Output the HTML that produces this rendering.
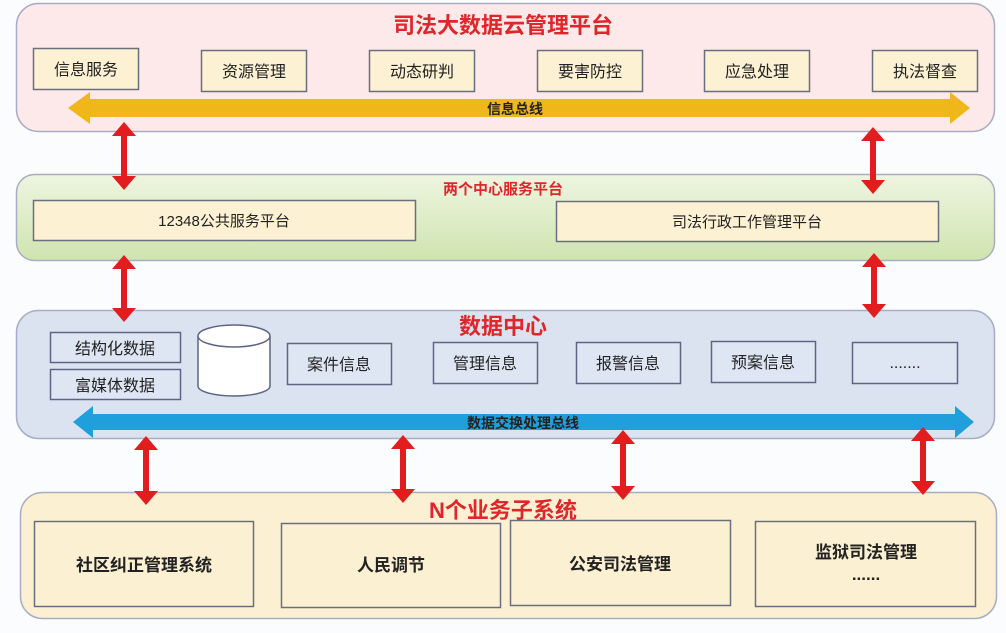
<!DOCTYPE html>
<html><head><meta charset="utf-8"><style>
body{margin:0;background:#fbfcfe;}
svg{display:block;font-family:"Liberation Sans","Noto Sans CJK SC",sans-serif;}
</style></head><body>
<svg width="1006" height="633" viewBox="0 0 1006 633" xmlns="http://www.w3.org/2000/svg">
<defs>
<linearGradient id="g2" x1="0" y1="0" x2="0" y2="1"><stop offset="0" stop-color="#eef5e0"/><stop offset="1" stop-color="#cfe4b0"/></linearGradient>
</defs>
<!-- Panel 1 -->
<rect x="16.5" y="3.5" width="978" height="128" rx="22" fill="#fde9ea" stroke="#a9adc4" stroke-width="1.5"/>
<text x="503" y="33" font-size="22" font-weight="bold" fill="#e0262a" text-anchor="middle">司法大数据云管理平台</text>
<g fill="#fcf1d2" stroke="#6a6f80" stroke-width="1.5">
<rect x="33.5" y="48.5" width="105" height="41"/>
<rect x="201.5" y="50.5" width="105" height="41"/>
<rect x="369.5" y="50.5" width="105" height="41"/>
<rect x="537.5" y="50.5" width="105" height="41"/>
<rect x="704.5" y="50.5" width="105" height="41"/>
<rect x="872.5" y="50.5" width="105" height="41"/>
</g>
<g font-size="16" fill="#222" text-anchor="middle">
<text x="86" y="75">信息服务</text><text x="254" y="77">资源管理</text><text x="422" y="77">动态研判</text>
<text x="590" y="77">要害防控</text><text x="757" y="77">应急处理</text><text x="925" y="77">执法督查</text>
</g>
<polygon points="68,108 90,92 90,99 950,99 950,92 970,108 950,124 950,117 90,117 90,124" fill="#f0b71b"/>
<text x="515" y="114" font-size="14" font-weight="bold" fill="#222" text-anchor="middle">信息总线</text>
<!-- Panel 2 -->
<rect x="16.5" y="174.5" width="978" height="86" rx="18" fill="url(#g2)" stroke="#a9adc4" stroke-width="1.5"/>
<text x="503" y="194" font-size="15" font-weight="bold" fill="#e0262a" text-anchor="middle">两个中心服务平台</text>
<g fill="#fcf1d2" stroke="#6a6f80" stroke-width="1.5">
<rect x="33.5" y="200.5" width="382" height="40"/>
<rect x="556.5" y="201.5" width="382" height="40"/>
</g>
<g font-size="15" fill="#222" text-anchor="middle">
<text x="224" y="226">12348公共服务平台</text><text x="747" y="227">司法行政工作管理平台</text>
</g>
<!-- Panel 3 -->
<rect x="16.5" y="310.5" width="978" height="128" rx="22" fill="#dbe3f1" stroke="#a9adc4" stroke-width="1.5"/>
<text x="503" y="334" font-size="22" font-weight="bold" fill="#e0262a" text-anchor="middle">数据中心</text>
<g fill="#dfe6f3" stroke="#5c6684" stroke-width="1.5">
<rect x="50.5" y="332.5" width="130" height="30"/>
<rect x="50.5" y="369.5" width="130" height="30"/>
<rect x="287.5" y="343.5" width="104" height="41"/>
<rect x="433.5" y="342.5" width="104" height="41"/>
<rect x="576.5" y="342.5" width="104" height="41"/>
<rect x="711.5" y="341.5" width="104" height="41"/>
<rect x="852.5" y="342.5" width="105" height="41"/>
</g>
<path d="M198,336 L198,386 A36,10 0 0 0 270,386 L270,336" fill="#fff" stroke="#5c6684" stroke-width="1.5"/>
<ellipse cx="234" cy="336" rx="36" ry="11" fill="#fff" stroke="#5c6684" stroke-width="1.5"/>
<g font-size="16" fill="#222" text-anchor="middle">
<text x="115" y="354">结构化数据</text><text x="115" y="391">富媒体数据</text>
<text x="339" y="370">案件信息</text><text x="485" y="369">管理信息</text><text x="628" y="369">报警信息</text>
<text x="763" y="368">预案信息</text><text x="905" y="368">.......</text>
</g>
<polygon points="73,422 93,406 93,414 955,414 955,406 974,422 955,438 955,430 93,430 93,438" fill="#1fa0dc"/>
<text x="523" y="428" font-size="14" font-weight="bold" fill="#222" text-anchor="middle">数据交换处理总线</text>
<!-- Panel 4 -->
<rect x="20.5" y="492.5" width="976" height="126" rx="22" fill="#fcf0d2" stroke="#a9adc4" stroke-width="1.5"/>
<text x="503" y="518" font-size="22" font-weight="bold" fill="#e0262a" text-anchor="middle">N个业务子系统</text>
<g fill="#fcf0d2" stroke="#6a6f80" stroke-width="1.5">
<rect x="34.5" y="521.5" width="219" height="85"/>
<rect x="281.5" y="523.5" width="219" height="84"/>
<rect x="510.5" y="520.5" width="220" height="85"/>
<rect x="755.5" y="521.5" width="220" height="85"/>
</g>
<g font-size="17" font-weight="bold" fill="#222" text-anchor="middle">
<text x="144" y="571">社区纠正管理系统</text><text x="391" y="571">人民调节</text>
<text x="620" y="570">公安司法管理</text><text x="866" y="558">监狱司法管理</text><text x="866" y="580">......</text>
</g>
<!-- Red arrows -->
<g fill="#e31d1d">
<polygon points="124,122 136,136 127,136 127,176 136,176 124,190 112,176 121,176 121,136 112,136"/>
<polygon points="873,127 885,141 876,141 876,180 885,180 873,194 861,180 870,180 870,141 861,141"/>
<polygon points="124,255 136,269 127,269 127,308 136,308 124,322 112,308 121,308 121,269 112,269"/>
<polygon points="874,253 886,267 877,267 877,304 886,304 874,318 862,304 871,304 871,267 862,267"/>
<polygon points="146,436 158,450 149,450 149,491 158,491 146,505 134,491 143,491 143,450 134,450"/>
<polygon points="403,435 415,449 406,449 406,489 415,489 403,503 391,489 400,489 400,449 391,449"/>
<polygon points="623,430 635,444 626,444 626,486 635,486 623,500 611,486 620,486 620,444 611,444"/>
<polygon points="923,427 935,441 926,441 926,481 935,481 923,495 911,481 920,481 920,441 911,441"/>
</g>
</svg>
</body></html>
